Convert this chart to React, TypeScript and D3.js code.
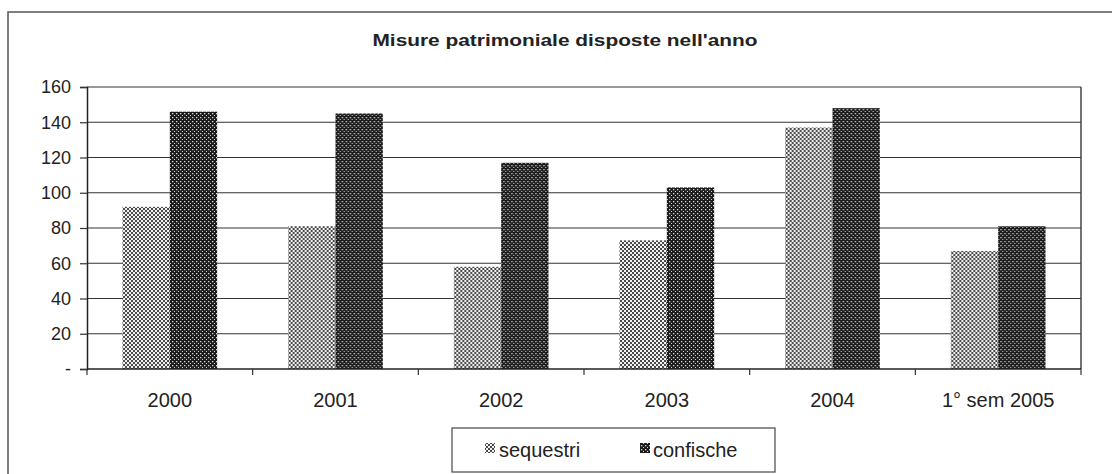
import React, { useRef, useEffect } from 'react';
import * as d3 from 'd3';

// categories and values
const years = ['2000', '2001', '2002', '2003', '2004', '1° sem 2005'];
const sequestri = [92, 81, 58, 73, 137, 67];
const confische = [146, 145, 117, 103, 148, 81];
const yTicks = [0, 20, 40, 60, 80, 100, 120, 140, 160];
const seriesNames = ['sequestri', 'confische'];

const W = 1112;
const H = 474;
const FONT = '"Liberation Sans", Arial, sans-serif';

const App: React.FC = () => {
  const svgRef = useRef<SVGSVGElement>(null);

  useEffect(() => {
    if (!svgRef.current) return;
    const root = d3.select(svgRef.current);
    root.selectAll('*').remove();

    const plot = { left: 87, right: 1081, top: 87, bottom: 369 };

    // dither-like fills
    const defs = root.append('defs');
    const pSeq = defs.append('pattern')
      .attr('id', 'pSeq').attr('width', 4).attr('height', 4)
      .attr('patternUnits', 'userSpaceOnUse');
    pSeq.append('rect').attr('width', 4).attr('height', 4).attr('fill', '#f2f2f2');
    pSeq.append('rect').attr('x', 0).attr('y', 0).attr('width', 2).attr('height', 2).attr('fill', '#4a4a4a');
    pSeq.append('rect').attr('x', 2).attr('y', 2).attr('width', 2).attr('height', 2).attr('fill', '#4a4a4a');

    const pConf = defs.append('pattern')
      .attr('id', 'pConf').attr('width', 4).attr('height', 4)
      .attr('patternUnits', 'userSpaceOnUse');
    pConf.append('rect').attr('width', 4).attr('height', 4).attr('fill', '#1c1c1c');
    pConf.append('rect').attr('x', 1).attr('y', 1).attr('width', 1.3).attr('height', 1.3).attr('fill', '#d8d8d8');
    pConf.append('rect').attr('x', 3).attr('y', 3).attr('width', 1.3).attr('height', 1.3).attr('fill', '#d8d8d8');

    const fills = ['url(#pSeq)', 'url(#pConf)'];

    // outer chart frame (runs off the right and bottom of the picture)
    root.append('rect')
      .attr('x', 8).attr('y', 12)
      .attr('width', W + 20).attr('height', H + 20)
      .attr('fill', 'white').attr('stroke', '#555').attr('stroke-width', 1.5);

    // title
    root.append('text')
      .attr('x', 565).attr('y', 46)
      .attr('text-anchor', 'middle')
      .attr('font-family', FONT).attr('font-weight', 'bold').attr('font-size', 16)
      .attr('textLength', 385).attr('lengthAdjust', 'spacingAndGlyphs')
      .attr('fill', '#222')
      .text("Misure patrimoniale disposte nell'anno");

    const x = d3.scaleBand<string>()
      .domain(years)
      .range([plot.left, plot.right])
      .paddingInner(0)
      .paddingOuter(0);

    const xs = d3.scaleBand<string>()
      .domain(seriesNames)
      .range([0, x.bandwidth()])
      .paddingOuter(0.75)
      .paddingInner(0);

    const y = d3.scaleLinear().domain([0, 160]).range([plot.bottom, plot.top]);

    // gridlines
    root.append('g')
      .selectAll('line')
      .data(yTicks.filter(t => t > 0))
      .enter()
      .append('line')
      .attr('x1', plot.left).attr('x2', plot.right)
      .attr('y1', d => y(d)).attr('y2', d => y(d))
      .attr('stroke', '#333').attr('stroke-width', 1.2);

    // plot border right
    root.append('line')
      .attr('x1', plot.right).attr('x2', plot.right)
      .attr('y1', plot.top).attr('y2', plot.bottom)
      .attr('stroke', '#444').attr('stroke-width', 1.5);

    // bars
    const groups = root.append('g')
      .selectAll('g')
      .data(years)
      .enter()
      .append('g')
      .attr('transform', d => `translate(${x(d)},0)`);

    groups.each(function (d, i) {
      const g = d3.select(this);
      const vals = [sequestri[i], confische[i]];
      seriesNames.forEach((s, j) => {
        g.append('rect')
          .attr('x', xs(s) || 0)
          .attr('y', y(vals[j]))
          .attr('width', xs.bandwidth())
          .attr('height', plot.bottom - y(vals[j]))
          .attr('fill', fills[j]);
      });
    });

    // y axis
    const yAxis = d3.axisLeft(y)
      .tickValues(yTicks)
      .tickSize(7)
      .tickPadding(9)
      .tickFormat(d => (d === 0 ? '-' : String(d)));
    const gy = root.append('g')
      .attr('transform', `translate(${plot.left},0)`)
      .call(yAxis);
    gy.select('.domain').attr('stroke', '#222').attr('stroke-width', 1.5);
    gy.selectAll('.tick line').attr('stroke', '#333').attr('stroke-width', 1.2);
    gy.selectAll('.tick text')
      .attr('font-family', FONT).attr('font-size', 18).attr('fill', '#222');

    // x axis with ticks between categories
    root.append('line')
      .attr('x1', plot.left).attr('x2', plot.right)
      .attr('y1', plot.bottom).attr('y2', plot.bottom)
      .attr('stroke', '#222').attr('stroke-width', 1.5);

    const bounds = years.map(d => x(d) || 0).concat([plot.right]);
    root.append('g')
      .selectAll('line')
      .data(bounds)
      .enter()
      .append('line')
      .attr('x1', d => d).attr('x2', d => d)
      .attr('y1', plot.bottom).attr('y2', plot.bottom + 6)
      .attr('stroke', '#333').attr('stroke-width', 1.2);

    root.append('g')
      .selectAll('text')
      .data(years)
      .enter()
      .append('text')
      .attr('x', d => (x(d) || 0) + x.bandwidth() / 2)
      .attr('y', 407)
      .attr('text-anchor', 'middle')
      .attr('font-family', FONT).attr('font-size', 20).attr('fill', '#222')
      .text(d => d);

    // legend
    const legend = root.append('g');
    legend.append('rect')
      .attr('x', 452).attr('y', 428)
      .attr('width', 323).attr('height', 44)
      .attr('fill', 'white').attr('stroke', '#555').attr('stroke-width', 1.3);

    const legendItems = [
      { name: seriesNames[0], sx: 485, tx: 499, fill: fills[0] },
      { name: seriesNames[1], sx: 640, tx: 653, fill: fills[1] },
    ];
    legendItems.forEach(it => {
      legend.append('rect')
        .attr('x', it.sx).attr('y', 443)
        .attr('width', 10).attr('height', 10)
        .attr('fill', it.fill);
      legend.append('text')
        .attr('x', it.tx).attr('y', 457)
        .attr('font-family', FONT).attr('font-size', 20).attr('fill', '#222')
        .text(it.name);
    });
  }, []);

  return (
    <svg
      ref={svgRef}
      width={W}
      height={H}
      style={{ position: 'absolute', left: 0, top: 0, background: 'white' }}
    />
  );
};

export default App;
